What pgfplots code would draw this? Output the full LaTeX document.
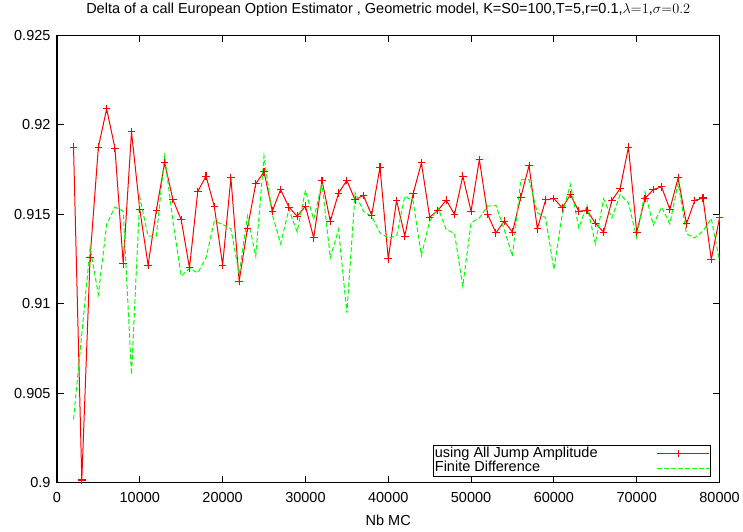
\documentclass[border=0pt]{standalone}
\usepackage{fontspec}
\setmainfont{Liberation Sans}
\usepackage{pgfplots}
\pgfplotsset{compat=1.18}

\newcommand{\gfont}{\fontsize{14.5bp}{16bp}\selectfont}

\pgfplotstableread{
x y
2000 0.91875
3000 0.90015
4000 0.91257
5000 0.91875
6000 0.92089
7000 0.91869
8000 0.91223
9000 0.9196
10000 0.91527
11000 0.91216
12000 0.91521
13000 0.91787
14000 0.91582
15000 0.91469
16000 0.91201
17000 0.91627
18000 0.91713
19000 0.91543
20000 0.91216
21000 0.91703
22000 0.91126
23000 0.91421
24000 0.9167
25000 0.91737
26000 0.91517
27000 0.91638
28000 0.9154
29000 0.91489
30000 0.91545
31000 0.91368
32000 0.91689
33000 0.91461
34000 0.91618
35000 0.91689
36000 0.9158
37000 0.91605
38000 0.91495
39000 0.91763
40000 0.91251
41000 0.91577
42000 0.91378
43000 0.91614
44000 0.91787
45000 0.91484
46000 0.91521
47000 0.91579
48000 0.91499
49000 0.91713
50000 0.91517
51000 0.91806
52000 0.91499
53000 0.91396
54000 0.91461
55000 0.914
56000 0.91595
57000 0.91772
58000 0.91418
59000 0.9158
60000 0.91588
61000 0.91536
62000 0.9161
63000 0.91517
64000 0.91522
65000 0.9145
66000 0.914
67000 0.91577
68000 0.91644
69000 0.91875
70000 0.914
71000 0.91588
72000 0.91638
73000 0.91653
74000 0.91527
75000 0.91703
76000 0.91446
77000 0.91577
78000 0.91591
79000 0.91247
80000 0.9148
}\jumpamp

\pgfplotstableread{
x y
2000 0.90354
3000 0.9083
4000 0.91312
5000 0.91052
6000 0.91443
7000 0.9154
8000 0.91517
9000 0.90605
10000 0.91595
11000 0.91378
12000 0.91378
13000 0.91824
14000 0.91461
15000 0.91154
16000 0.91197
17000 0.91173
18000 0.91257
19000 0.91461
20000 0.91443
21000 0.91418
22000 0.91164
23000 0.91489
24000 0.91266
25000 0.91824
26000 0.91499
27000 0.91335
28000 0.91527
29000 0.91402
30000 0.91633
31000 0.91471
32000 0.91675
33000 0.91257
34000 0.91415
35000 0.90949
36000 0.9162
37000 0.91517
38000 0.91489
39000 0.91396
40000 0.91368
41000 0.91378
42000 0.91601
43000 0.91573
44000 0.9127
45000 0.91461
46000 0.91536
47000 0.91415
48000 0.91393
49000 0.91098
50000 0.91452
51000 0.9148
52000 0.91545
53000 0.9155
54000 0.91415
55000 0.91266
56000 0.91694
57000 0.91694
58000 0.91508
59000 0.9148
60000 0.91192
61000 0.91499
62000 0.91666
63000 0.91424
64000 0.91549
65000 0.91335
66000 0.91586
67000 0.9148
68000 0.9161
69000 0.91564
70000 0.91368
71000 0.91625
72000 0.91439
73000 0.9154
74000 0.91446
75000 0.91675
76000 0.91391
77000 0.91368
78000 0.91406
79000 0.91476
80000 0.91238
}\findiff

\begin{document}
\begin{tikzpicture}
\begin{axis}[
    scale only axis,
    width=663bp, height=447.7bp,
    xmin=0, xmax=80000,
    ymin=0.9, ymax=0.925,
    xtick={0,10000,...,80000},
    ytick={0.9,0.905,0.91,0.915,0.92,0.925},
    scaled x ticks=false, scaled y ticks=false,
    /pgf/number format/1000 sep={},
    /pgf/number format/assume math mode=true,
    yticklabel style={/pgf/number format/fixed, /pgf/number format/precision=3},
    tick label style={font=\gfont},
    tick align=inside,
    major tick length=7bp,
    axis line style={line width=1.1bp},
    major tick style={draw=black, line width=1bp},
    xticklabel shift=6bp,
    yticklabel shift=3bp,
    title={Delta of a call European Option Estimator , Geometric model, K=S0=100,T=5,r=0.1,$\lambda{=}1$,$\sigma{=}0.2$},
    title style={font=\gfont, anchor=base, at={(0.5,1)}, yshift=15.5bp},
    xlabel={Nb MC},
    xlabel style={font=\gfont, anchor=base, at={(0.5,0)}, yshift=-43.3bp},
    legend plot pos=right,
    legend cell align=left,
    legend style={font=\gfont, at={(1,0)}, anchor=south east,
        xshift=-8.3bp, yshift=6bp, draw=black, line width=1bp,
        inner xsep=1bp, inner ysep=0.5bp,
        row sep=0pt, column sep=0pt,
        nodes={inner sep=0pt, text height=11bp, text depth=3.8bp}},
    tickseg/.style={black, line width=1bp, forget plot, mark=none},
]
% tick marks, one short segment each, on all four sides
\pgfplotsinvokeforeach{10000,20000,30000,40000,50000,60000,70000}{
  \addplot[tickseg] coordinates {(#1,0.9) (#1,0.90039)};
  \addplot[tickseg] coordinates {(#1,0.925) (#1,0.92461)};
}
\pgfplotsinvokeforeach{0.905,0.91,0.915,0.92}{
  \addplot[tickseg] coordinates {(0,#1) (845,#1)};
  \addplot[tickseg] coordinates {(80000,#1) (79155,#1)};
}
\addplot[color=red, line width=1bp, mark=-, mark size=3.8bp,
    mark options={solid, draw=red, line width=1.1bp},
    legend image code/.code={
        \draw[red, line width=1bp] (0bp,0bp) -- (42bp,0bp);
        \draw[red, line width=1.1bp] (21bp,-3.8bp) -- (21bp,3.8bp);
        \path (0bp,0bp) -- (52bp,0bp);
    }] table {\jumpamp};
\addlegendentry{\makebox[222bp][l]{using All Jump Amplitude}}
\addplot[forget plot, only marks, mark=|, mark size=3.8bp,
    mark options={solid, draw=red, line width=1.1bp}] table {\jumpamp};
\addplot[color=green, line width=1bp, dash pattern=on 4.5bp off 2.5bp, mark=none,
    legend image code/.code={
        \draw[green, line width=1bp, dash pattern=on 4.5bp off 2.5bp] (0bp,0bp) -- (42bp,0bp);
        \path (0bp,0bp) -- (52bp,0bp);
    }] table {\findiff};
\addlegendentry{\makebox[222bp][l]{Finite Difference}}
\end{axis}
\path (current axis.south west) ++(-57bp,-49.3bp) rectangle ([xshift=23bp,yshift=34bp]current axis.north east);
\end{tikzpicture}
\end{document}
